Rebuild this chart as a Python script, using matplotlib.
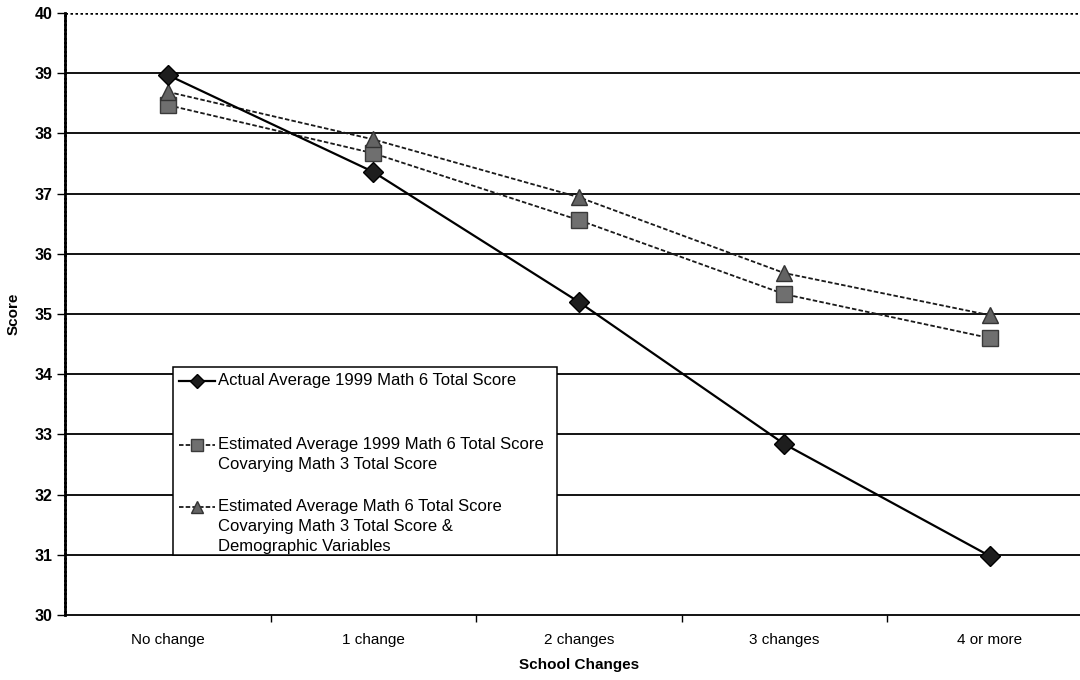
import matplotlib
matplotlib.use("Agg")
import matplotlib.pyplot as plt
from matplotlib.lines import Line2D
from matplotlib.patches import Rectangle

plt.rcParams['font.family'] = ['Liberation Sans', 'DejaVu Sans']

categories = ["No change", "1 change", "2 changes", "3 changes", "4 or more"]
actual = [38.97, 37.36, 35.20, 32.84, 30.98]
est_math3 = [38.47, 37.67, 36.56, 35.33, 34.60]
est_math3_demo = [38.69, 37.90, 36.94, 35.68, 34.98]

labels = [
    "Actual Average 1999 Math 6 Total Score",
    "Estimated Average 1999 Math 6 Total Score\nCovarying Math 3 Total Score",
    "Estimated Average Math 6 Total Score\nCovarying Math 3 Total Score &\nDemographic Variables",
]

W, H = 1080, 680
fig = plt.figure(figsize=(W / 100, H / 100), dpi=100)
ax = fig.add_axes([0.0602, 0.0956, 0.9514, 0.8853])

x = list(range(len(categories)))

ax.set_ylim(30, 40)
ax.set_xlim(-0.5, len(categories) - 0.5)

# horizontal gridlines
for v in range(31, 40):
    ax.axhline(v, color='black', lw=1.3, zorder=1)
ax.axhline(40, color='black', lw=1.8, ls=(0, (1, 1.0)), zorder=1)

actual_style = dict(color='black', lw=1.6, marker='D', ms=10,
                    mfc='#1e1e1e', mec='black', mew=1)
est1_style = dict(color='#1a1a1a', lw=1.3, ls=(0, (2.5, 1.2)), marker='s', ms=12,
                  mfc='#6f6f6f', mec='#3a3a3a', mew=1)
est2_style = dict(color='#1a1a1a', lw=1.3, ls=(0, (2.5, 1.2)), marker='^', ms=12,
                  mfc='#636363', mec='#333333', mew=1)

ax.plot(x, actual, zorder=4, **actual_style)
ax.plot(x, est_math3, zorder=3, **est1_style)
ax.plot(x, est_math3_demo, zorder=3, **est2_style)

ax.set_yticks(range(30, 41))
ax.set_yticklabels([str(v) for v in range(30, 41)], fontweight='bold', fontsize=11.5)
ax.set_xticks(x)
ax.set_xticklabels(categories, fontsize=11)
ax.tick_params(axis='x', length=0, pad=13)
ax.set_xticks([i + 0.5 for i in range(len(categories) - 1)], minor=True)
ax.tick_params(axis='x', which='minor', length=5, direction='out', width=1)
ax.tick_params(axis='y', length=6, width=1, direction='out', pad=3)

for s in ['top', 'right']:
    ax.spines[s].set_visible(False)
ax.spines['left'].set_linestyle((0, (1, 0.6)))
ax.spines['left'].set_linewidth(2)
ax.spines['bottom'].set_linewidth(1.3)

ax.set_ylabel("Score", fontweight='bold', fontsize=11, labelpad=10)
ax.set_xlabel("School Changes", fontweight='bold', fontsize=11, labelpad=8)

# legend box drawn in figure pixel coordinates
def fx(px):
    return px / W

def fy(py):
    return 1 - py / H

box = Rectangle((fx(173), fy(555)), fx(557) - fx(173), fy(367) - fy(555),
                transform=fig.transFigure, facecolor='white', edgecolor='black',
                lw=1.1, zorder=10)
fig.add_artist(box)

entries = [(381, actual_style, labels[0]),
           (445, est1_style, labels[1]),
           (507, est2_style, labels[2])]
for py, style, text in entries:
    st = dict(style)
    st['ms'] = style['ms'] * 0.7
    ln = Line2D([fx(179), fx(197), fx(215)], [fy(py)] * 3, transform=fig.transFigure,
                markevery=[1], zorder=11, **st)
    fig.add_artist(ln)
    fig.text(fx(218), fy(py - 8), text, fontsize=12, va='top', ha='left',
             linespacing=1.4, zorder=12, transform=fig.transFigure)

fig.savefig("out.png", dpi=100, facecolor='white')
